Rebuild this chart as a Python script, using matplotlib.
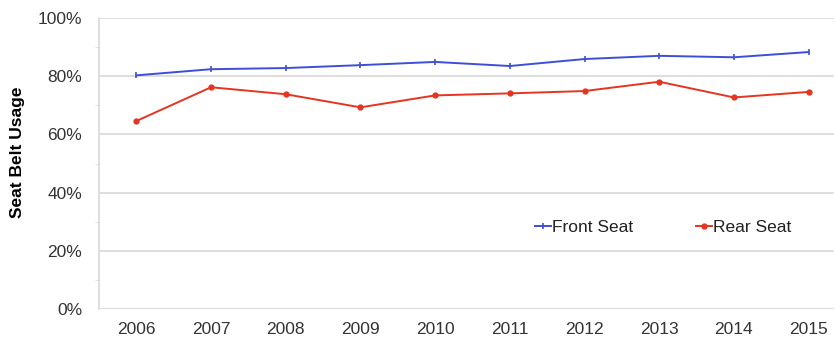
import matplotlib.pyplot as plt
from matplotlib.ticker import MultipleLocator, PercentFormatter

plt.rcParams['font.family'] = ['Liberation Sans', 'DejaVu Sans']

years = [2006, 2007, 2008, 2009, 2010, 2011, 2012, 2013, 2014, 2015]
front_seat = [80.3, 82.4, 82.8, 83.8, 84.9, 83.5, 85.9, 87.0, 86.5, 88.3]
rear_seat = [64.6, 76.2, 73.8, 69.3, 73.4, 74.1, 74.9, 78.1, 72.7, 74.6]

fig = plt.figure(figsize=(8.35, 3.4), dpi=100)
ax = fig.add_axes([99 / 835, 31 / 340, 735 / 835, 291 / 340])

ax.plot(years, front_seat, color='#3d4fd6', lw=1.4, marker='|', ms=4,
        mew=1.2, label='Front Seat')
ax.plot(years, rear_seat, color='#e5341f', lw=1.4, marker='o', ms=3.5,
        label='Rear Seat')

ax.set_ylim(0, 100)
ax.set_xlim(2005.5, 2015.34)
ax.set_xticks(years)
ax.yaxis.set_major_locator(MultipleLocator(20))
ax.yaxis.set_minor_locator(MultipleLocator(10))
ax.yaxis.set_major_formatter(PercentFormatter(decimals=0))
ax.grid(axis='y', which='major', color='#d8d8d8', lw=1.2)
ax.set_axisbelow(True)

for side in ['top', 'right', 'bottom']:
    ax.spines[side].set_visible(False)
ax.spines['left'].set_color('#d8d8d8')
ax.spines['left'].set_linewidth(1.2)

ax.tick_params(axis='both', which='both', labelsize=12.5, colors='#333333')
ax.tick_params(axis='x', length=0, pad=9)
ax.tick_params(axis='y', which='major', length=0, pad=12)
ax.tick_params(axis='y', which='minor', length=3, color='#dddddd')

ax.set_ylabel('Seat Belt Usage', fontsize=12.5, fontweight='bold')
ax.yaxis.set_label_coords(-0.101, 0.54)

ax.legend(loc='upper left', bbox_to_anchor=(0.572, 0.36), ncol=2, frameon=False,
          fontsize=12.5, handlelength=0.9, handletextpad=0.1, columnspacing=3.6,
          labelcolor='#222222')

fig.savefig('out.png', dpi=100)
